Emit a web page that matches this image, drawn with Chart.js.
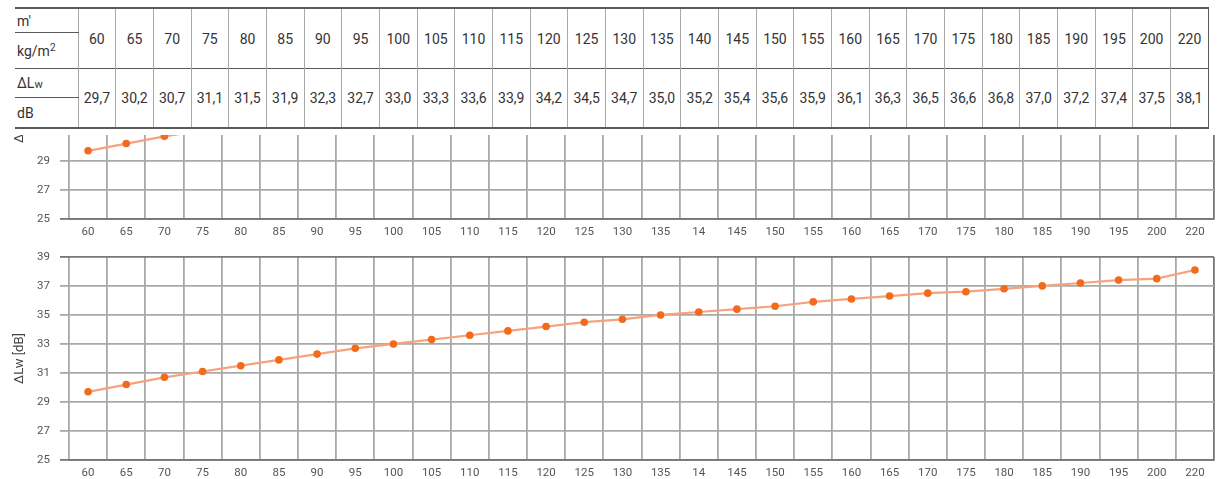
<!DOCTYPE html>
<html>
<head>
<meta charset="utf-8">
<script src="https://cdn.jsdelivr.net/npm/chart.js@4.4.0/dist/chart.umd.min.js"></script>
<style>
  body { margin: 0; width: 1218px; height: 479px; background: #fff; overflow: hidden; position: relative;
         font-family: "Liberation Sans Narrow", "Roboto", sans-serif; }
  table { position: absolute; left: 15px; top: 7px; width: 1194px; border-collapse: collapse; table-layout: fixed;
          color: #333; font-size: 14px; }
  td { padding: 0; text-align: center; border-left: 1px solid #a8a8a8; }
  td.head { text-align: left; padding-left: 2px; border-left: none; }
  tr.r1 td { border-top: 2px solid #5a5a5a; }
  tr.r1 td.head { border-bottom: 1px solid #5a5a5a; height: 23px; }
  tr.r2 td.head { height: 35px; }
  tr.r3 td { border-top: 1.5px solid #5a5a5a; }
  tr.r3 td.head { border-bottom: 1px solid #5a5a5a; height: 28px; }
  tr.r4 td.head { height: 29px; }
  tr.r4 td, td.val { border-bottom: 2px solid #5a5a5a; }
  td.last { border-right: 1px solid #5a5a5a; }
  sup { font-size: 10px; vertical-align: 5px; }
  #clip { position: absolute; top: 135px; left: 0; width: 1218px; height: 103px; overflow: hidden; }
  #topChart { position: absolute; top: -136px; left: 0; }
  #mainChart { position: absolute; top: 240px; left: 0; }
</style>
</head>
<body>
<table id="tbl"></table>
<div id="clip"><canvas id="topChart" width="1218" height="239"></canvas></div>
<canvas id="mainChart" width="1218" height="239"></canvas>
<script>
// surface mass m' [kg/m2]
const mass = [60, 65, 70, 75, 80, 85, 90, 95, 100, 105, 110, 115, 120, 125, 130, 135, 140, 145, 150, 155,
  160, 165, 170, 175, 180, 185, 190, 195, 200, 220];
// improvement ΔLw [dB]
const dLw = [29.7, 30.2, 30.7, 31.1, 31.5, 31.9, 32.3, 32.7, 33.0, 33.3, 33.6, 33.9, 34.2, 34.5, 34.7, 35.0,
  35.2, 35.4, 35.6, 35.9, 36.1, 36.3, 36.5, 36.6, 36.8, 37.0, 37.2, 37.4, 37.5, 38.1];
// x tick labels as printed on the chart
const xTickLabels = ['60', '65', '70', '75', '80', '85', '90', '95', '100', '105', '110', '115', '120', '125',
  '130', '135', '14', '145', '150', '155', '160', '165', '170', '175', '180', '185', '190', '195', '200', '220'];
const yMin = 25, yMax = 39, yStep = 2;

// table
function fmt(v) { return v.toFixed(1).replace('.', ','); }
const tbl = document.getElementById('tbl');
let html = '<colgroup><col style="width:63px">' + mass.map(() => '<col>').join('') + '</colgroup>';
html += '<tr class="r1"><td class="head">m\'</td>' +
  mass.map((m, i) => `<td rowspan="2"${i === mass.length - 1 ? ' class="last"' : ''}>${m}</td>`).join('') + '</tr>';
html += '<tr class="r2"><td class="head">kg/m<sup>2</sup></td></tr>';
html += '<tr class="r3"><td class="head">&Delta;L<span style="font-size:11px">w</span></td>' +
  dLw.map((v, i) => `<td rowspan="2" class="val${i === dLw.length - 1 ? ' last' : ''}">${fmt(v)}</td>`).join('') + '</tr>';
html += '<tr class="r4"><td class="head">dB</td></tr>';
tbl.innerHTML = html;

const dark = '#777';
const light = '#a9a9a9';
const tickFont = { family: '"Liberation Sans Narrow", "Roboto", sans-serif', size: 11.5 };

function makeChart(el) {
  return new Chart(el, {
    type: 'line',
    data: {
      labels: xTickLabels,
      datasets: [{
        data: dLw,
        borderColor: '#f7a27f',
        borderWidth: 2.2,
        pointBackgroundColor: '#f26a1c',
        pointBorderWidth: 0,
        pointRadius: 3.8,
        tension: 0
      }]
    },
    options: {
      responsive: false,
      animation: false,
      layout: { padding: { top: 9, right: 2, left: 0, bottom: 0 } },
      plugins: { legend: { display: false }, tooltip: { enabled: false } },
      scales: {
        x: {
          offset: true,
          grid: {
            offset: true,
            drawTicks: false,
            lineWidth: 1.8,
            color: (ctx) => ctx.type === 'tick' ? light : dark
          },
          border: { display: true, color: dark, width: 1.8 },
          ticks: { color: '#555', font: tickFont, padding: 6, autoSkip: false, maxRotation: 0 },
          afterFit: (s) => { s.height = 19; }
        },
        y: {
          min: yMin,
          max: yMax,
          grid: {
            tickLength: 9,
            lineWidth: 1.8,
            color: (ctx) => (ctx.tick && (ctx.tick.value === yMin || ctx.tick.value === yMax)) ? dark : light
          },
          border: { display: false },
          ticks: { stepSize: yStep, color: '#555', font: tickFont, padding: 10 },
          title: {
            display: true,
            text: 'ΔLw [dB]',
            color: '#444',
            font: { family: tickFont.family, size: 13 },
            padding: { top: 12, bottom: 0 }
          },
          afterFit: (s) => { s.width = 69; }
        }
      }
    }
  });
}

makeChart(document.getElementById('topChart'));
makeChart(document.getElementById('mainChart'));
</script>
</body>
</html>
